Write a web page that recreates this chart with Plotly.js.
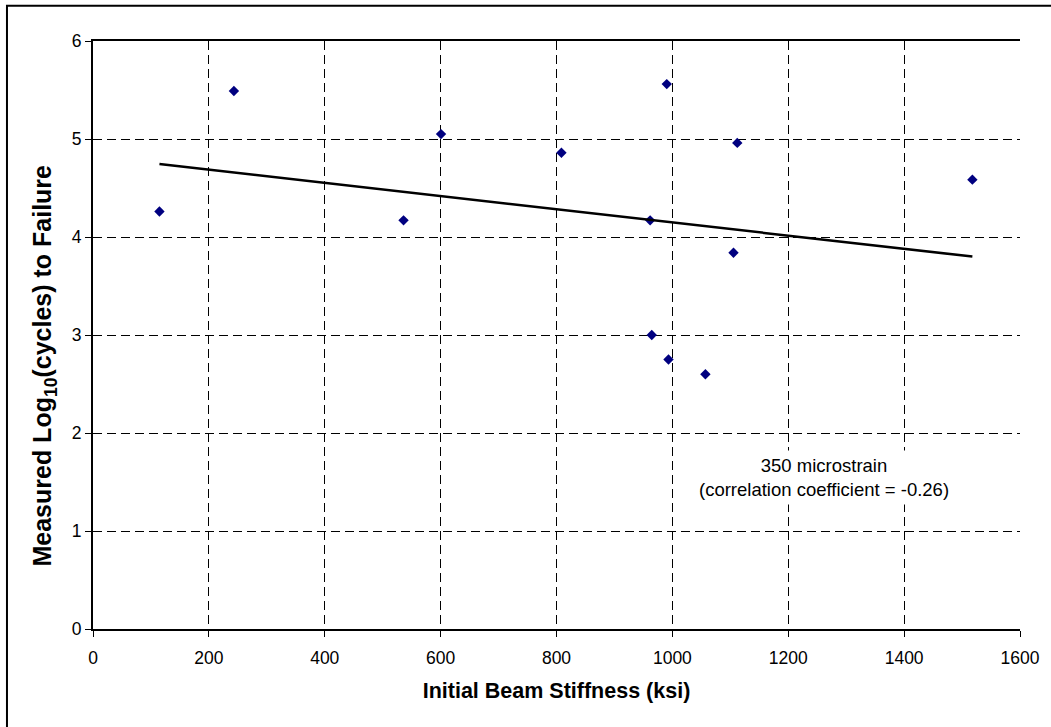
<!DOCTYPE html>
<html>
<head>
<meta charset="utf-8">
<script src="https://cdn.plot.ly/plotly-3.0.1.min.js"></script>
<style>
html,body{margin:0;padding:0;background:#fff;}
#chart{width:1051px;height:727px;}
</style>
</head>
<body>
<div id="chart"></div>
<script>
var stiffness = [114.7, 243.2, 536, 600.7, 808.5, 961.6, 964.4, 990.3, 993.3, 1057, 1105.5, 1112, 1517.8];
var logCycles = [4.26, 5.49, 4.17, 5.05, 4.86, 4.17, 3.00, 5.56, 2.75, 2.60, 3.84, 4.96, 4.585];

// Linear trend line endpoints
var trendX = [114.7, 1517.8];
var trendY = [4.745, 3.80];

var xTicks = [0, 200, 400, 600, 800, 1000, 1200, 1400, 1600];
var yTicks = [0, 1, 2, 3, 4, 5, 6];

var xTitle = "<b>Initial Beam Stiffness (ksi)</b>";
var yTitle = "<b>Measured Log<sub>10</sub>(cycles) to Failure</b>";
var annotationText = "350 microstrain<br>(correlation coefficient = -0.26)";

var FONT = "Liberation Sans, Arial, sans-serif";

var traces = [
  {
    x: stiffness, y: logCycles, type: "scatter", mode: "markers",
    marker: {symbol: "diamond", size: 8, color: "#000080"},
    hoverinfo: "x+y", showlegend: false
  },
  {
    x: trendX, y: trendY, type: "scatter", mode: "lines",
    line: {color: "#000000", width: 2.5},
    hoverinfo: "skip", showlegend: false
  }
];

var gridCommon = {
  showgrid: true, gridcolor: "#000000", gridwidth: 1, griddash: "9px,5px",
  zeroline: false, showline: true, linecolor: "#000000", linewidth: 2,
  ticks: "outside", ticklen: 6, tickwidth: 1, tickcolor: "#000000",
  tickfont: {family: FONT, size: 17.5, color: "#000000"}
};

var layout = {
  width: 1051, height: 727,
  paper_bgcolor: "#ffffff", plot_bgcolor: "#ffffff",
  margin: {l: 93, r: 31, t: 41, b: 98, pad: 0},
  xaxis: Object.assign({}, gridCommon, {
    range: [0, 1600], tickvals: xTicks, ticktext: xTicks.map(String),
    mirror: true, ticklabelstandoff: 6,
    title: {text: xTitle, font: {family: FONT, size: 21.5, color: "#000000"}, standoff: 16}
  }),
  yaxis: Object.assign({}, gridCommon, {
    range: [0, 6], tickvals: yTicks, ticktext: yTicks.map(String),
    title: {text: ""}
  }),
  annotations: [
    {
      x: 1262, y: 1.55, xref: "x", yref: "y", text: annotationText,
      showarrow: false, align: "center", bgcolor: "#ffffff", borderpad: 4,
      font: {family: FONT, size: 18.5, color: "#000000"}
    },
    {
      x: -0.0529, y: 0.448, xref: "paper", yref: "paper", text: yTitle,
      showarrow: false, textangle: -90, xanchor: "center", yanchor: "middle",
      font: {family: FONT, size: 25, color: "#000000"}
    }
  ],
  shapes: [{
    type: "rect", xref: "paper", yref: "paper",
    x0: -0.0928, x1: 1.1, y0: -0.2, y1: 1.0601,
    line: {color: "#000000", width: 2}, fillcolor: "rgba(0,0,0,0)", layer: "below"
  }]
};

Plotly.newPlot("chart", traces, layout, {displayModeBar: false, staticPlot: true});
</script>
</body>
</html>
